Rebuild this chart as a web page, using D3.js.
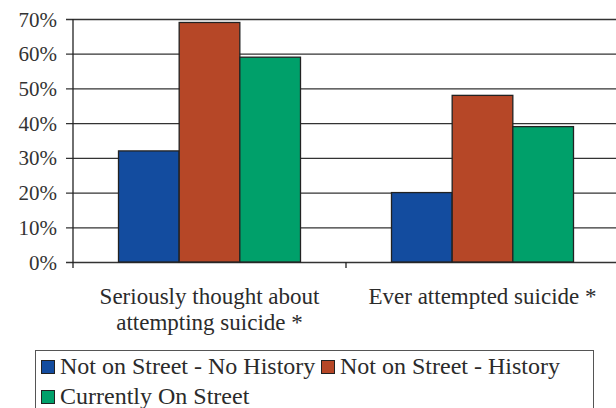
<!DOCTYPE html>
<html>
<head>
  <meta charset="utf-8">
  <script src="https://d3js.org/d3.v7.min.js"></script>
  <style>
    body { margin: 0; }
    svg text { font-family: "Liberation Serif", "Times New Roman", serif !important; }
  </style>
</head>
<body>
<script>
  // data
  const categories = ["Seriously thought about|attempting suicide *", "Ever attempted suicide *"];
  const seriesNames = ["Not on Street - No History", "Not on Street - History", "Currently On Street"];
  const seriesColors = ["#134c9f", "#b64727", "#00a06a"];
  const noHistoryVals = [32, 20];
  const historyVals = [69, 48];
  const onStreetVals = [59, 39];
  const yTicks = [0, 10, 20, 30, 40, 50, 60, 70];

  const values = [noHistoryVals, historyVals, onStreetVals];
  const FONT = "'Liberation Serif', 'Times New Roman', serif";

  const W = 616, H = 408;
  const margin = {top: 19, left: 73, bottom: 146};

  const svg = d3.select("body").append("svg")
    .attr("width", W).attr("height", H)
    .style("font-family", FONT);

  const y = d3.scaleLinear().domain([0, 70]).range([H - margin.bottom, margin.top]);

  // each category is 273px wide, the second one is cut by the right edge
  const x = d3.scaleBand().domain(categories).range([margin.left, margin.left + 546]).padding(0);
  const xs = d3.scaleBand().domain(seriesNames).range([0, x.bandwidth()])
    .paddingInner(0).paddingOuter(0.75);

  // gridlines + left ticks
  svg.append("g")
    .attr("transform", `translate(${margin.left},0)`)
    .call(d3.axisLeft(y).tickValues(yTicks).tickSize(-(W - margin.left)).tickSizeOuter(0)
      .tickFormat(d => d + "%").tickPadding(16))
    .call(g => g.select(".domain").remove())
    .call(g => g.selectAll(".tick line").attr("x1", -7).attr("stroke", "#333").attr("stroke-width", 1.3))
    .call(g => g.selectAll(".tick text")
      .style("font-family", FONT).attr("font-size", 21).attr("dy", "0.34em").attr("fill", "#333"));

  // vertical axis line
  svg.append("line")
    .attr("x1", margin.left).attr("x2", margin.left)
    .attr("y1", y(70)).attr("y2", y(0) + 6)
    .attr("stroke", "#222").attr("stroke-width", 1.3);

  // category separators
  svg.selectAll(".sep")
    .data(categories.slice(1))
    .join("line")
    .attr("x1", d => x(d)).attr("x2", d => x(d))
    .attr("y1", y(0)).attr("y2", y(0) + 6)
    .attr("stroke", "#222").attr("stroke-width", 1.3);

  // bars
  const groups = svg.selectAll(".grp")
    .data(categories)
    .join("g")
    .attr("transform", d => `translate(${x(d)},0)`);

  groups.selectAll("rect")
    .data((d, ci) => seriesNames.map((s, si) => ({s, si, v: values[si][ci]})))
    .join("rect")
    .attr("x", d => xs(d.s))
    .attr("y", d => y(d.v))
    .attr("width", xs.bandwidth())
    .attr("height", d => y(0) - y(d.v))
    .attr("fill", d => seriesColors[d.si])
    .attr("stroke", "#222")
    .attr("stroke-width", 1.3);

  // category labels
  svg.selectAll(".cat")
    .data(categories)
    .join("text")
    .attr("x", d => x(d) + x.bandwidth() / 2)
    .attr("y", 304)
    .attr("text-anchor", "middle")
    .style("font-family", FONT)
    .attr("font-size", 23)
    .attr("fill", "#2b2b2b")
    .each(function(d) {
      d3.select(this).selectAll("tspan")
        .data(d.split("|"))
        .join("tspan")
        .attr("x", x(d) + x.bandwidth() / 2)
        .attr("dy", (t, i) => i ? 26 : 0)
        .text(t => t);
    });

  // legend
  const legend = svg.append("g");
  legend.append("rect")
    .attr("x", 35.5).attr("y", 350.5).attr("width", 558).attr("height", 70)
    .attr("fill", "none").attr("stroke", "#555").attr("stroke-width", 1);

  const legendPos = [[41, 374], [321, 374], [41, 404]];
  const item = legend.selectAll(".item")
    .data(seriesNames)
    .join("g")
    .attr("transform", (d, i) => `translate(${legendPos[i][0]},${legendPos[i][1]})`);
  item.append("rect")
    .attr("x", 0.5).attr("y", -13.5).attr("width", 13).attr("height", 13)
    .attr("fill", (d, i) => seriesColors[i])
    .attr("stroke", "#222").attr("stroke-width", 1);
  item.append("text")
    .attr("x", 19)
    .style("font-family", FONT)
    .attr("font-size", 24)
    .attr("fill", "#2b2b2b")
    .text(d => d);
</script>
</body>
</html>
